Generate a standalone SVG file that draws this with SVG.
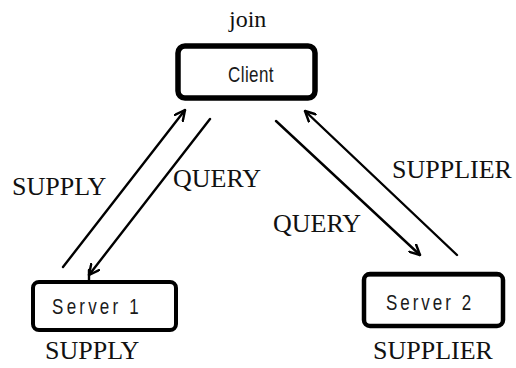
<svg xmlns="http://www.w3.org/2000/svg" width="516" height="368" viewBox="0 0 516 368">
  <defs>
    <style>
      .box { fill: #fff; stroke: #000; }
      .lbl { font-family: "Liberation Serif", "Times New Roman", serif; font-size: 26px; fill: #111; }
      .nt { font-family: "Liberation Sans", Arial, sans-serif; font-size: 17px; fill: #1a1a1a; letter-spacing: 0.4px; text-anchor: middle; }
      .con { fill: none; stroke: #000; stroke-width: 2.4; stroke-linecap: round; stroke-linejoin: round; }
    </style>
    <marker id="ah" viewBox="0 0 12 12" refX="11" refY="6" markerWidth="12" markerHeight="12" markerUnits="userSpaceOnUse" orient="auto">
      <path d="M1,1 L11,6 L1,11" fill="none" stroke="#000" stroke-width="2.4" stroke-linecap="round" stroke-linejoin="round"/>
    </marker>
  </defs>
  <rect width="516" height="368" fill="#fff"/>

  <g id="client">
    <rect class="box" x="178" y="46" width="137" height="52" rx="7" stroke-width="5.5"/>
    <text class="nt" transform="translate(251,82) scale(1,1.3)">Client</text>
    <text class="lbl" x="229" y="27" style="font-size:24px">join</text>
  </g>

  <g id="server1">
    <rect class="box" x="33" y="282" width="143" height="48" rx="6" stroke-width="4"/>
    <text class="nt" transform="translate(97,314) scale(1,1.3)" style="letter-spacing:3.2px">Server 1</text>
    <text class="lbl" x="45" y="359">SUPPLY</text>
  </g>

  <g id="server2">
    <rect class="box" x="364" y="274" width="139" height="52" rx="6" stroke-width="4.5"/>
    <line x1="366" y1="275" x2="501" y2="275" stroke="#000" stroke-width="3"/>
    <text class="nt" transform="translate(430,310) scale(1,1.3)" style="letter-spacing:3px">Server 2</text>
    <text class="lbl" x="373" y="359">SUPPLIER</text>
  </g>

  <g id="connectors">
    <line class="con" x1="63" y1="267" x2="185" y2="110" marker-end="url(#ah)"/>
    <line class="con" x1="210" y1="119" x2="89" y2="275" marker-end="url(#ah)"/>
    <line class="con" x1="89" y1="270" x2="89" y2="281"/>
    <line class="con" x1="276" y1="121" x2="420" y2="255" marker-end="url(#ah)"/>
    <line class="con" x1="457" y1="255" x2="305" y2="111" marker-end="url(#ah)"/>
    <text class="lbl" x="12" y="195">SUPPLY</text>
    <text class="lbl" x="173" y="187">QUERY</text>
    <text class="lbl" x="392" y="178">SUPPLIER</text>
    <text class="lbl" x="273" y="232">QUERY</text>
  </g>
</svg>
